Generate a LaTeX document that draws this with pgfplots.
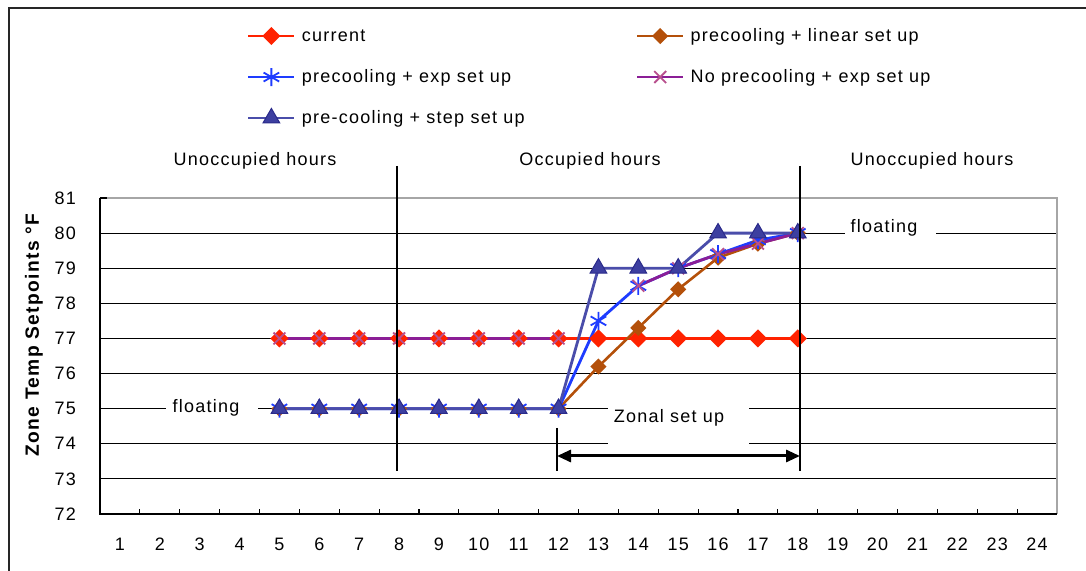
\documentclass[border=0pt]{standalone}
\usepackage{pgfplots}
\pgfplotsset{compat=1.18}
\usepackage{fontspec}
\setmainfont{Liberation Sans}[LetterSpace=7]
\usetikzlibrary{arrows.meta}

\definecolor{cur}{HTML}{FF2200}
\definecolor{lin}{HTML}{B4500A}
\definecolor{expc}{HTML}{1E3CFF}
\definecolor{nopre}{HTML}{8B1E96}
\definecolor{nopremk}{HTML}{B8508E}
\definecolor{stepl}{HTML}{4A4DAA}
\definecolor{stepf}{HTML}{3D3FA0}
\definecolor{stepd}{HTML}{2A2A8A}
\newcommand{\fsz}{\fontsize{9}{11}\selectfont}

\begin{document}
\begin{tikzpicture}[font=\fsz]
\begin{axis}[
  scale only axis, width=478.5pt, height=158pt,
  xmin=0.5, xmax=24.5, ymin=72, ymax=81,
  xtick={1,...,24}, ytick={72,...,81},
  minor xtick={0.5,1.5,...,24.5},
  tick pos=left, tick align=inside,
  major tick length=3.5pt, minor tick length=2.5pt,
  major x tick style={draw=none},
  minor x tick style={black, line width=0.6pt},
  ytick style={black, line width=0.6pt},
  ymajorgrids, grid style={black, line width=0.5pt},
  axis line style={draw=none},
  tick label style={font=\fsz},
  xticklabel style={yshift=-8.3pt},
  yticklabel style={xshift=-8.5pt},
  /pgf/number format/assume math mode=true,
  clip=false,
  unbounded coords=jump,
  legend columns=2,
  legend cell align=left,
  legend style={draw=none, fill=none, font=\fsz, inner sep=0pt, outer sep=0pt,
    at={(axis description cs:0.1536,1.560)}, anchor=north west,
    row sep=5.5pt, column sep=0pt,
    nodes={inner xsep=3pt, inner ysep=3pt, text height=7pt, text depth=2pt}},
  legend image code/.code={\draw[mark repeat=2,mark phase=2,#1] plot coordinates {(0pt,0pt) (11.5pt,0pt) (23pt,0pt)};},
]
\coordinate (O) at (rel axis cs:0,0);

% current
\addplot[cur, line width=1.4pt, mark=square*, mark size=2.5pt, mark options={rotate=45, solid}] coordinates {
(5,77) (6,77) (7,77) (8,77) (9,77) (10,77) (11,77) (12,77)
(13,77) (14,77) (15,77) (16,77) (17,77) (18,77)
};
\addlegendentry{\makebox[164pt][l]{current}}

% precooling + linear set up
\addplot[lin, line width=1.3pt, mark=square*, mark size=2.2pt, mark options={rotate=45, solid}] coordinates {
(5,75) (6,75) (7,75) (8,75) (9,75) (10,75) (11,75) (12,75)
(13,76.2) (14,77.3) (15,78.4) (16,79.3) (17,79.7) (18,80)
};
\addlegendentry{precooling + linear set up}

% precooling + exp set up
\addplot[expc, line width=1.4pt, mark=asterisk, mark size=4.5pt, mark options={line width=0.9pt, solid}] coordinates {
(5,75) (6,75) (7,75) (8,75) (9,75) (10,75) (11,75) (12,75)
(13,77.5) (14,78.5) (15,79) (16,79.4) (17,79.8) (18,80)
};
\addlegendentry{\makebox[164pt][l]{precooling + exp set up}}

% No precooling + exp set up
\addplot[nopre, line width=1.4pt, mark=x, mark size=4.2pt, mark options={nopremk, line width=0.9pt, solid}] coordinates {
(5,77) (6,77) (7,77) (8,77) (9,77) (10,77) (11,77) (12,77)
(13,nan) (14,78.5) (15,79) (16,79.4) (17,79.7) (18,80)
};
\addlegendentry{No precooling + exp set up}

% pre-cooling + step set up
\addplot[stepl, line width=1.4pt, mark=triangle*, mark size=4.8pt, mark options={fill=stepf, draw=stepd, line width=0.5pt, solid}] coordinates {
(5,75) (6,75) (7,75) (8,75) (9,75) (10,75) (11,75) (12,75)
(13,79) (14,79) (15,79) (16,80) (17,80) (18,80)
};
\addlegendentry{\makebox[164pt][l]{pre-cooling + step set up}}
\end{axis}

\begin{scope}[x=0.5pt, y=-0.5pt, shift={(O)}, shift={(-100,-514)}]
  % plot frame
  \draw[gray!70, line width=0.6pt] (107,198) -- (1057,198) -- (1057,514);
  \draw[black, line width=0.6pt] (100,198) -- (100,514) -- (1057,514);
  % annotation boxes
  \fill[white] (166,398) rectangle (258,420);
  \node at (206,408) {floating};
  \fill[white] (845,218) rectangle (936,242);
  \node at (884,228) {floating};
  \fill[white] (608,398) rectangle (749,450);
  \node at (669,418) {Zonal set up};
  % region labels
  \node at (255,161) {Unoccupied hours};
  \node at (590,161) {Occupied hours};
  \node at (932,161) {Unoccupied hours};
  % dividers and arrow
  \draw[black, line width=1pt] (397,166) -- (397,471);
  \draw[black, line width=1pt] (800,166) -- (800,471);
  \draw[black, line width=1pt] (557,428) -- (557,471);
  \draw[black, line width=1.5pt, {Triangle[length=7pt,width=6pt]}-{Triangle[length=7pt,width=6pt]}] (557,456) -- (800,456);
  % y label
  \node[rotate=90, font=\fontsize{9.6}{11}\selectfont\bfseries] at (34,335) {Zone Temp Setpoints °F};
  % outer frame
  \draw[black!85, line width=1pt] (9,575) -- (9,8) -- (1090,8);
  \pgfresetboundingbox
  \path[use as bounding box] (0,0) rectangle (1086,571);
\end{scope}
\end{tikzpicture}
\end{document}
